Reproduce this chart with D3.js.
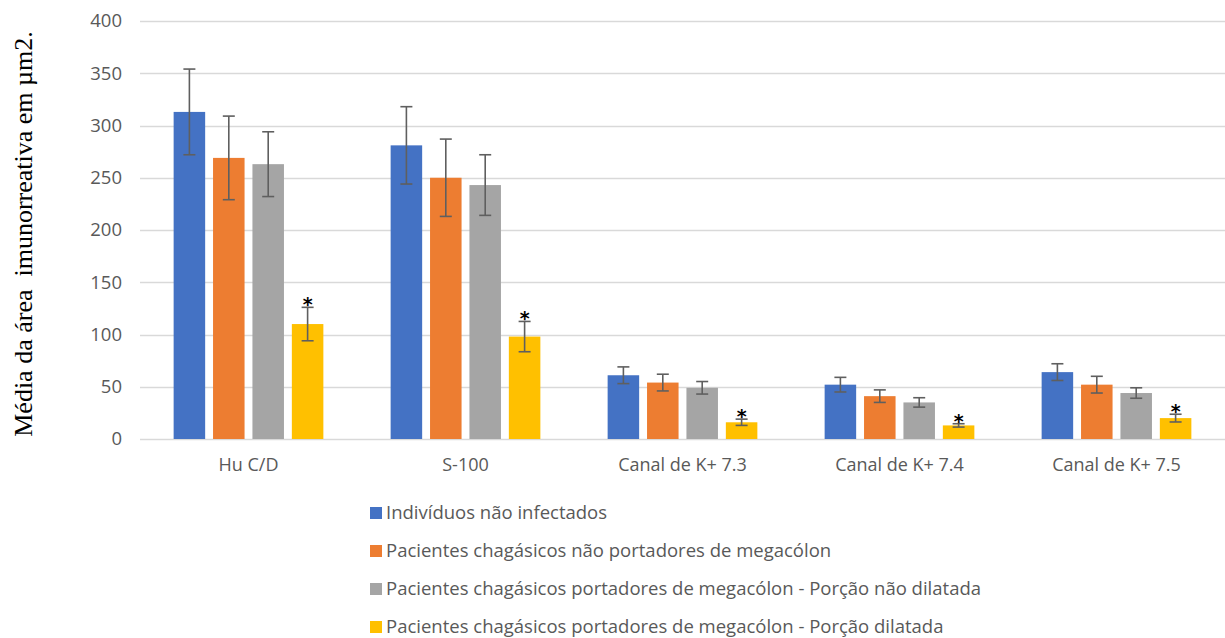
<!DOCTYPE html>
<html>
<head>
<meta charset="utf-8">
<script src="https://cdn.jsdelivr.net/npm/d3@7"></script>
<style>
  body { margin: 0; background: #fff; }
  svg { display: block; }
</style>
</head>
<body>
<div id="chart"></div>
<script>
// data
const categories = ["Hu C/D", "S-100", "Canal de K+ 7.3", "Canal de K+ 7.4", "Canal de K+ 7.5"]
const seriesNames = [
  "Indivíduos não infectados",
  "Pacientes chagásicos não portadores de megacólon",
  "Pacientes chagásicos portadores de megacólon - Porção não dilatada",
  "Pacientes chagásicos portadores de megacólon - Porção dilatada"
]
const naoInfectados = [313, 281, 61, 52, 64]
const naoPortadores = [269, 250, 54, 41, 52]
const portNaoDilatada = [263, 243, 49, 35, 44]
const portDilatada = [110, 98, 16, 13, 20]

const errNaoInfectados = [41, 37, 8, 7, 8]
const errNaoPortadores = [40, 37, 8, 6, 8]
const errPortNaoDilatada = [31, 29, 6, 4.5, 5]
const errPortDilatada = [16, 14.5, 3, 1.6, 3.7]

const significant = [false, false, false, true]
const yTicks = [0, 50, 100, 150, 200, 250, 300, 350, 400]

const values = [naoInfectados, naoPortadores, portNaoDilatada, portDilatada]
const errors = [errNaoInfectados, errNaoPortadores, errPortNaoDilatada, errPortDilatada]

const width = 1225, height = 638
const margin = { top: 21, right: 0, bottom: 199, left: 140 }

const svg = d3.select("#chart").append("svg")
  .attr("width", width)
  .attr("height", height)

const colorScale = d3.scaleOrdinal()
  .domain(seriesNames)
  .range(["#4472C4", "#ED7D31", "#A5A5A5", "#FFC000"])

const xScale = d3.scaleBand()
  .domain(categories)
  .range([margin.left, width - margin.right])
  .paddingInner(0.31)
  .paddingOuter(0.155)

const xSub = d3.scaleBand()
  .domain(seriesNames)
  .range([0, xScale.bandwidth()])
  .paddingInner(0.2)

const yScale = d3.scaleLinear()
  .domain([0, 400])
  .range([height - margin.bottom, margin.top])

// gridlines
svg.append("g")
  .selectAll("line")
  .data(yTicks)
  .join("line")
  .attr("x1", margin.left)
  .attr("x2", width - margin.right)
  .attr("y1", d => Math.round(yScale(d)) + 0.5)
  .attr("y2", d => Math.round(yScale(d)) + 0.5)
  .attr("stroke", "#D9D9D9")
  .attr("stroke-width", 1.5)

// y axis labels
const yAxis = d3.axisLeft(yScale).tickValues(yTicks).tickSize(0).tickPadding(18)
svg.append("g")
  .attr("class", "y-axis")
  .attr("transform", `translate(${margin.left}, 0)`)
  .call(yAxis)
  .call(g => g.select(".domain").remove())
  .call(g => g.selectAll("text")
    .attr("fill", "#595959")
    .attr("font-family", "'Open Sans', sans-serif")
    .attr("font-size", 18.5))

// x axis labels
const xAxis = d3.axisBottom(xScale).tickSize(0).tickPadding(19)
svg.append("g")
  .attr("class", "x-axis")
  .attr("transform", `translate(0, ${height - margin.bottom})`)
  .call(xAxis)
  .call(g => g.select(".domain").remove())
  .call(g => g.selectAll("text")
    .attr("fill", "#595959")
    .attr("font-family", "'Open Sans', sans-serif")
    .attr("font-size", 18))

// bars
const rows = []
seriesNames.forEach((s, si) => {
  categories.forEach((c, ci) => {
    rows.push({ series: s, si: si, cat: c, value: values[si][ci], err: errors[si][ci] })
  })
})

const bars = svg.append("g")
bars.selectAll("rect")
  .data(rows)
  .join("rect")
  .attr("x", d => xScale(d.cat) + xSub(d.series))
  .attr("width", xSub.bandwidth())
  .attr("y", d => yScale(d.value))
  .attr("height", d => yScale(0) - yScale(d.value))
  .attr("fill", d => colorScale(d.series))

// error bars
const eb = svg.append("g")
  .attr("stroke", "#5F5F5F")
  .attr("stroke-width", 1.6)
const cx = d => xScale(d.cat) + xSub(d.series) + xSub.bandwidth() / 2
eb.selectAll("line.v")
  .data(rows)
  .join("line")
  .attr("class", "v")
  .attr("x1", cx).attr("x2", cx)
  .attr("y1", d => yScale(d.value + d.err))
  .attr("y2", d => yScale(d.value - d.err))
eb.selectAll("line.top")
  .data(rows)
  .join("line")
  .attr("class", "top")
  .attr("x1", d => cx(d) - 6).attr("x2", d => cx(d) + 6)
  .attr("y1", d => yScale(d.value + d.err))
  .attr("y2", d => yScale(d.value + d.err))
eb.selectAll("line.bot")
  .data(rows)
  .join("line")
  .attr("class", "bot")
  .attr("x1", d => cx(d) - 6).attr("x2", d => cx(d) + 6)
  .attr("y1", d => yScale(d.value - d.err))
  .attr("y2", d => yScale(d.value - d.err))

// significance stars
svg.append("g")
  .selectAll("text")
  .data(rows.filter(d => significant[d.si]))
  .join("text")
  .attr("x", cx)
  .attr("y", d => yScale(d.value + d.err) + 4)
  .attr("text-anchor", "middle")
  .attr("font-family", "'DejaVu Sans', sans-serif")
  .attr("font-weight", "bold")
  .attr("font-size", 19)
  .attr("fill", "#000")
  .text("*")

// y axis title
svg.append("text")
  .attr("transform", `translate(32, 234) rotate(-90)`)
  .attr("text-anchor", "middle")
  .attr("font-family", "'Liberation Serif', 'Times New Roman', serif")
  .attr("font-size", 26)
  .attr("fill", "#000")
  .attr("xml:space", "preserve")
  .style("white-space", "pre")
  .text("Média da área  imunorreativa em µm2.")

// legend
const legend = svg.append("g")
  .selectAll("g")
  .data(seriesNames)
  .join("g")
  .attr("transform", (d, i) => `translate(370, ${513 + i * 38})`)
legend.append("rect")
  .attr("x", 0).attr("y", -6)
  .attr("width", 12).attr("height", 12)
  .attr("fill", d => colorScale(d))
legend.append("text")
  .attr("x", 16)
  .attr("dy", "0.35em")
  .attr("fill", "#595959")
  .attr("font-family", "'Open Sans', sans-serif")
  .attr("font-size", 18.5)
  .text(d => d)
</script>
</body>
</html>
